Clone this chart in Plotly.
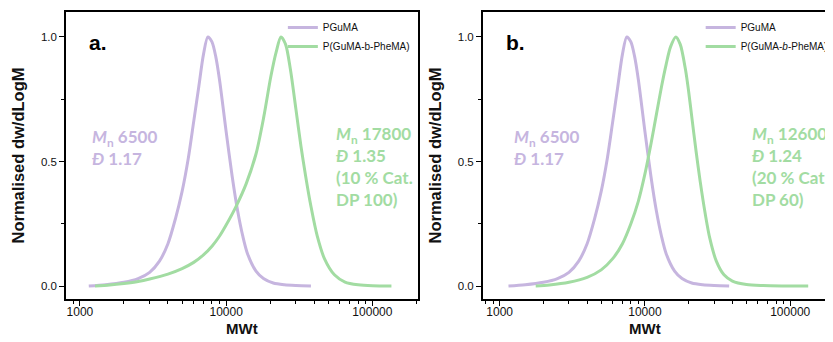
import plotly.graph_objects as go

# ---------------- data ----------------
mw_pguma = [1150, 1500, 2000, 2500, 3000, 3500, 4000, 4500, 5000, 5500, 6000, 6500,
            7000, 7500, 8000, 8500, 9000, 10000, 11000, 12000, 13000, 14000, 16000,
            18000, 21000, 25000, 30000, 38000]
y_pguma = [0.0, 0.005, 0.015, 0.03, 0.055, 0.10, 0.17, 0.27, 0.38, 0.51, 0.66, 0.80,
           0.93, 1.0, 0.98, 0.92, 0.83, 0.62, 0.44, 0.30, 0.20, 0.13, 0.06,
           0.03, 0.012, 0.005, 0.002, 0.0]

mw_block_a = [1270, 1600, 2000, 2500, 3000, 4000, 5000, 6000, 7000, 8000, 9000, 10000,
              11700, 13700, 16000, 18100, 20200, 22000, 23700, 25500, 27500, 30000,
              32500, 35000, 38000, 42000, 47000, 55000, 65000, 80000, 100000, 135000]
y_block_a = [0.0, 0.004, 0.01, 0.018, 0.028, 0.048, 0.07, 0.095, 0.125, 0.16, 0.2, 0.245,
             0.32, 0.41, 0.53, 0.68, 0.84, 0.94, 1.0, 0.97, 0.87, 0.71,
             0.56, 0.44, 0.32, 0.2, 0.11, 0.045, 0.016, 0.005, 0.001, 0.0]

mw_block_b = [1770, 2200, 3000, 4000, 5000, 6000, 7000, 8000, 9000, 10000, 11000, 12000,
              13000, 14000, 15000, 16300, 17500, 19000, 20000, 21000, 22500, 24000,
              26000, 28000, 31000, 35000, 40000, 50000, 65000, 90000, 133000]
y_block_b = [0.0, 0.004, 0.015, 0.035, 0.065, 0.11, 0.17, 0.25, 0.34, 0.45, 0.57, 0.69,
             0.80, 0.89, 0.96, 1.0, 0.97, 0.87, 0.78, 0.68, 0.54, 0.42,
             0.29, 0.19, 0.10, 0.045, 0.02, 0.006, 0.002, 0.0005, 0.0]

x_ticks = [1000, 10000, 100000]
x_tick_labels = ["1000", "10000", "100000"]
y_ticks = [0.0, 0.5, 1.0]
y_tick_labels = ["0.0", "0.5", "1.0"]

PURPLE = "#c6b5df"
GREEN = "#a2dca2"

fig = go.Figure()
line_common = dict(width=3, shape="spline", smoothing=0.8)
fig.add_trace(go.Scatter(x=mw_pguma, y=y_pguma, mode="lines", name="PGuMA",
                         line=dict(color=PURPLE, **line_common),
                         xaxis="x", yaxis="y", legend="legend"))
fig.add_trace(go.Scatter(x=mw_block_a, y=y_block_a, mode="lines", name="P(GuMA-b-PheMA)",
                         line=dict(color=GREEN, **line_common),
                         xaxis="x", yaxis="y", legend="legend"))
fig.add_trace(go.Scatter(x=mw_pguma, y=y_pguma, mode="lines", name="PGuMA",
                         line=dict(color=PURPLE, **line_common),
                         xaxis="x2", yaxis="y2", legend="legend2"))
fig.add_trace(go.Scatter(x=mw_block_b, y=y_block_b, mode="lines", name="P(GuMA-<i>b</i>-PheMA)",
                         line=dict(color=GREEN, **line_common),
                         xaxis="x2", yaxis="y2", legend="legend2"))

# page body has an 8px margin: work in window pixels, shift by OFF
OFF = 8
W, H = 833 - OFF, 342 - OFF
ML, MR, MT = 66 - OFF, 0, 12 - OFF
MB = H - (299 - OFF)
PW = W - ML - MR
PH = H - MT - MB
dom_a = [0, (420 - 66) / PW]
dom_b = [(485 - 66) / PW, 1.0]

minor_x = [v * m for m in (100, 1000, 10000, 100000) for v in range(2, 10)]

xtick_font = dict(family="Arial", size=12, color="#111")
ytick_font = dict(family="Arial", size=11.5, color="#111")

def xaxis_cfg(dom, rng, anchor):
    return dict(domain=dom, type="log", range=rng, anchor=anchor,
                showline=True, linecolor="black", linewidth=1.5, mirror=True,
                ticks="outside", ticklen=5, tickwidth=1.2, tickcolor="black",
                tickvals=x_ticks, ticktext=x_tick_labels, tickfont=xtick_font,
                ticklabelstandoff=-4,
                minor=dict(tickvals=minor_x, ticks="outside", ticklen=3,
                           tickwidth=1, tickcolor="black", showgrid=False),
                showgrid=False, zeroline=False)

def yaxis_cfg(anchor, mirror):
    return dict(domain=[0, 1], range=[-0.052, 1.1], anchor=anchor,
                showline=True, linecolor="black", linewidth=1.5, mirror=mirror,
                ticks="outside", ticklen=5, tickwidth=1.2, tickcolor="black",
                tickvals=y_ticks, ticktext=y_tick_labels, tickfont=ytick_font,
                minor=dict(tickvals=[0.25, 0.75], ticks="outside", ticklen=3,
                           tickwidth=1, tickcolor="black", showgrid=False),
                showgrid=False, zeroline=False,
                title=dict(text="<b>Normalised dw/dLogM</b>",
                           font=dict(family="Arial", size=16.5, color="#111"), standoff=12))

leg_font = dict(family="Arial", size=10, color="#111")
fig.update_layout(
    width=W, height=H,
    margin=dict(l=ML, r=MR, t=MT, b=MB),
    paper_bgcolor="white", plot_bgcolor="white",
    showlegend=True,
    xaxis=xaxis_cfg(dom_a, [2.905, 5.313], "y"),
    yaxis=yaxis_cfg("x", True),
    xaxis2=xaxis_cfg(dom_b, [2.884, 5.267], "y2"),
    yaxis2=yaxis_cfg("x2", False),
    legend=dict(x=(284 - 66) / PW, y=(PH - 1) / PH, xanchor="left", yanchor="top",
                bgcolor="rgba(0,0,0,0)", font=leg_font, itemwidth=30, tracegroupgap=0),
    legend2=dict(x=(704 - 66) / PW, y=(PH - 1) / PH, xanchor="left", yanchor="top",
                 bgcolor="rgba(0,0,0,0)", font=leg_font, itemwidth=30, tracegroupgap=0),
)

txt_font = "Lato"
xt_y = (299 - 328) / PH
ann = [
    dict(text="<b>MWt</b>", xref="x domain", yref="y domain", x=0.5, y=xt_y,
         xanchor="center", yanchor="middle", showarrow=False,
         font=dict(family="Arial", size=15, color="#111")),
    dict(text="<b>MWt</b>", xref="x2 domain", yref="y2 domain", x=(648 - 485) / 348, y=xt_y,
         xanchor="center", yanchor="middle", showarrow=False,
         font=dict(family="Arial", size=15, color="#111")),
    dict(text="<b>a.</b>", xref="x domain", yref="y domain", x=0.06, y=0.94,
         xanchor="left", yanchor="top", showarrow=False,
         font=dict(family="Arial", size=21, color="black")),
    dict(text="<b>b.</b>", xref="x2 domain", yref="y2 domain", x=0.06, y=0.94,
         xanchor="left", yanchor="top", showarrow=False,
         font=dict(family="Arial", size=21, color="black")),
    dict(text="<b><i>M</i><sub>n</sub> 6500<br><i>Đ</i> 1.17</b>", xref="x domain", yref="y domain",
         x=0.068, y=0.61, xanchor="left", yanchor="top", align="left", showarrow=False,
         font=dict(family=txt_font, size=17, color=PURPLE)),
    dict(text="<b><i>M</i><sub>n</sub> 17800<br><i>Đ</i> 1.35<br>(10 % Cat.<br>DP 100)</b>",
         xref="x domain", yref="y domain",
         x=0.76, y=0.62, xanchor="left", yanchor="top", align="left", showarrow=False,
         font=dict(family=txt_font, size=17, color=GREEN)),
    dict(text="<b><i>M</i><sub>n</sub> 6500<br><i>Đ</i> 1.17</b>", xref="x2 domain", yref="y2 domain",
         x=0.083, y=0.61, xanchor="left", yanchor="top", align="left", showarrow=False,
         font=dict(family=txt_font, size=17, color=PURPLE)),
    dict(text="<b><i>M</i><sub>n</sub> 12600<br><i>Đ</i> 1.24<br>(20 % Cat.<br>DP 60)</b>",
         xref="x2 domain", yref="y2 domain",
         x=0.772, y=0.62, xanchor="left", yanchor="top", align="left", showarrow=False,
         font=dict(family=txt_font, size=17, color=GREEN)),
]
fig.update_layout(annotations=ann)

fig.write_html("out.html")
